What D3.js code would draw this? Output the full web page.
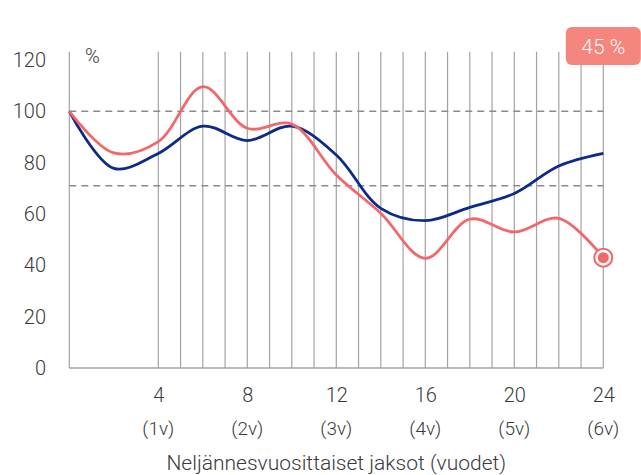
<!DOCTYPE html>
<html>
<head>
<meta charset="utf-8">
<script src="https://cdn.jsdelivr.net/npm/d3@7"></script>
<style>
  body { margin: 0; background: #fff; }
  text { font-family: Roboto, "Noto Sans", sans-serif; font-weight: 300; fill: #3a3a3a; }
</style>
</head>
<body>
<div class="chart"></div>
<script>
// data points every second quarter, 0..24
const quarters = [0, 2, 4, 6, 8, 10, 12, 14, 16, 18, 20, 22, 24];
const blueValues = [100, 77.8, 83.6, 94.2, 88.6, 94.2, 83, 62.2, 57.4, 62.6, 68, 78.7, 83.6];
const redValues  = [100, 83.8, 88.2, 109.6, 93.4, 95, 75.2, 60.3, 42.7, 58, 53, 58.3, 43];
const gridQuarters = [0, 4, 5, 6, 7, 8, 9, 10, 11, 12, 13, 14, 15, 16, 17, 18, 19, 20, 21, 22, 23, 24];
const yTicks = [0, 20, 40, 60, 80, 100, 120];
const xTicks = [4, 8, 12, 16, 20, 24];
const xTickYears = ["(1v)", "(2v)", "(3v)", "(4v)", "(5v)", "(6v)"];
const refLines = [100, 71];
const badgeText = "45 %";

let outWidth = 641, outHeight = 475;

const svg = d3.select(".chart").append("svg")
    .attr("width", outWidth)
    .attr("height", outHeight);

let xScale = d3.scaleLinear().domain([0, 24]).range([69.3, 603.3]);
let yScale = d3.scaleLinear().domain([0, 120]).range([368, 60]);

// vertical grid lines
svg.append("g")
    .selectAll("line")
    .data(gridQuarters)
    .enter().append("line")
    .attr("x1", d => xScale(d)).attr("x2", d => xScale(d))
    .attr("y1", yScale(0)).attr("y2", yScale(123.2))
    .attr("stroke", "#a3a3a3")
    .attr("stroke-width", 1.2);

// baseline
svg.append("line")
    .attr("x1", xScale(0)).attr("x2", xScale(24))
    .attr("y1", yScale(0)).attr("y2", yScale(0))
    .attr("stroke", "#a3a3a3")
    .attr("stroke-width", 1.5);

// dashed reference lines
svg.append("g")
    .selectAll("line")
    .data(refLines)
    .enter().append("line")
    .attr("x1", xScale(0)).attr("x2", xScale(24))
    .attr("y1", d => yScale(d)).attr("y2", d => yScale(d))
    .attr("stroke", "#8c8c8c")
    .attr("stroke-width", 1.5)
    .attr("stroke-dasharray", "7,5");

// y axis
const yAxis = d3.axisLeft(yScale).tickValues(yTicks).tickSize(0).tickPadding(0);
const gy = svg.append("g")
    .attr("transform", "translate(46,0)")
    .call(yAxis);
gy.select(".domain").remove();
gy.selectAll("text")
    .attr("font-size", 20)
    .attr("font-family", "Roboto, sans-serif")
    .attr("fill", "#3a3a3a");

svg.append("text")
    .attr("x", 85).attr("y", 56)
    .attr("dy", "0.35em")
    .attr("font-size", 20)
    .text("%");

// x axis labels
const xAxis = d3.axisBottom(xScale).tickValues(xTicks).tickSize(0).tickPadding(0);
const gx = svg.append("g")
    .attr("transform", "translate(0,388)")
    .call(xAxis);
gx.select(".domain").remove();
gx.selectAll("text")
    .attr("font-size", 20)
    .attr("font-family", "Roboto, sans-serif")
    .attr("fill", "#3a3a3a");

svg.append("g")
    .selectAll("text")
    .data(xTicks)
    .enter().append("text")
    .attr("x", d => xScale(d))
    .attr("y", 428)
    .attr("dy", "0.35em")
    .attr("text-anchor", "middle")
    .attr("font-size", 19)
    .text((d, i) => xTickYears[i]);

svg.append("text")
    .attr("x", (xScale(0) + xScale(24)) / 2)
    .attr("y", 463)
    .attr("dy", "0.35em")
    .attr("text-anchor", "middle")
    .attr("font-size", 21)
    .text("Neljännesvuosittaiset jaksot (vuodet)");

// lines
const line = d3.line()
    .x((d, i) => xScale(quarters[i]))
    .y(d => yScale(d))
    .curve(d3.curveCatmullRom.alpha(0.5));

svg.append("path")
    .datum(blueValues)
    .attr("d", line)
    .attr("fill", "none")
    .attr("stroke", "#0c2a8a")
    .attr("stroke-width", 2.8);

svg.append("path")
    .datum(redValues)
    .attr("d", line)
    .attr("fill", "none")
    .attr("stroke", "#f2686a")
    .attr("stroke-width", 2.8);

// end marker
const lastQ = quarters[quarters.length - 1];
const lastRed = redValues[redValues.length - 1];
svg.append("circle")
    .attr("cx", xScale(lastQ)).attr("cy", yScale(lastRed))
    .attr("r", 9)
    .attr("fill", "#fff")
    .attr("stroke", "#f2686a")
    .attr("stroke-width", 2);
svg.append("circle")
    .attr("cx", xScale(lastQ)).attr("cy", yScale(lastRed))
    .attr("r", 5.5)
    .attr("fill", "#f2686a");

// badge
svg.append("rect")
    .attr("x", xScale(lastQ) - 37.5).attr("y", 27)
    .attr("width", 75).attr("height", 38)
    .attr("rx", 6)
    .attr("fill", "#f4867e");
svg.append("text")
    .attr("x", xScale(lastQ)).attr("y", 47)
    .attr("dy", "0.35em")
    .attr("text-anchor", "middle")
    .attr("font-size", 21)
    .style("fill", "#fff")
    .text(badgeText);
</script>
</body>
</html>
